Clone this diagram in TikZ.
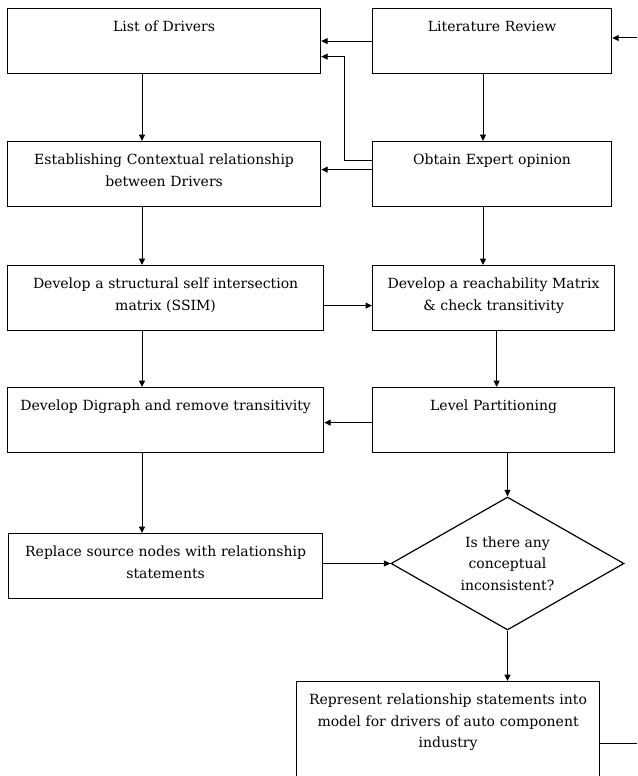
\documentclass[tikz,border=0pt]{standalone}
\usepackage{fontspec}
\setmainfont{DejaVu Serif}
\usetikzlibrary{arrows.meta,shapes.geometric}
\newcommand{\flowfont}{\fontsize{14}{21.5}\selectfont}
\tikzset{
  ar/.style={-{Triangle[length=6.5pt,width=6pt]},line width=1pt},
  stepbox/.style={draw,line width=1.2pt,anchor=north west,inner xsep=0pt,inner ysep=8pt,
    text width=#1,align=center,text height=15pt,text depth=34pt,font=\flowfont},
  decide/.style={draw,line width=1.2pt,diamond,aspect=1.75,minimum width=233pt,
    minimum height=133pt,inner sep=0pt,align=center,font=\flowfont}
}

\begin{document}
\begin{tikzpicture}[x=1pt,y=-1pt]
\useasboundingbox (0,0) rectangle (637,776);
\clip (0,0) rectangle (637,776);
\fill[white] (0,0) rectangle (637,776);
% columns for the vertical connectors, and the loose ends at the right edge
\coordinate (colL) at (142,0);
\coordinate (colR) at (483,0);
\coordinate (in) at (650,38);
\coordinate (out) at (650,743);
% left column
\node[stepbox=313pt] (drivers) at (7,8) {List of Drivers};
\node[stepbox=313pt] (est) at (7,141) {Establishing Contextual relationship\\between Drivers};
\node[stepbox=316pt] (ssim) at (7,265) {Develop a structural self intersection\\matrix (SSIM)};
\node[stepbox=316pt] (digraph) at (7,387) {Develop Digraph and remove transitivity};
\node[stepbox=314pt] (replace) at (8,533) {Replace source nodes with relationship\\statements};
% right column
\node[stepbox=239pt] (lit) at (372,8) {Literature Review};
\node[stepbox=239pt] (expert) at (372,141) {Obtain Expert opinion};
\node[stepbox=242pt] (reach) at (372,265) {Develop a reachability Matrix\\\& check transitivity};
\node[stepbox=242pt] (level) at (372,387) {Level Partitioning};
\node[decide] (dia) at (507.5,563.5) {Is there any\\conceptual\\inconsistent?};
\node[stepbox=303pt,text depth=89pt] (final) at (296,681) {Represent relationship statements into\\model for drivers of auto component\\industry};
% connectors
\draw[ar] (in) -- (in -| lit.east);
\draw[ar] (lit.west) -- (drivers.east);
\draw[ar] ([yshift=13.5pt]expert.west) -- ++(-28,0) |- ([yshift=-15.5pt]drivers.east);
\draw[ar] ([yshift=4.5pt]expert.west) -- ([yshift=4.5pt]est.east);
\draw[ar] (drivers.south -| colL) -- (est.north -| colL);
\draw[ar] (est.south -| colL) -- (ssim.north -| colL);
\draw[ar] (ssim.south -| colL) -- (digraph.north -| colL);
\draw[ar] (digraph.south -| colL) -- (replace.north -| colL);
\draw[ar] (lit.south -| colR) -- (expert.north -| colR);
\draw[ar] (expert.south -| colR) -- (reach.north -| colR);
\draw[ar] ([xshift=3pt]reach.south) -- ([xshift=3pt]level.north);
\draw[ar] (level.south -| dia.north) -- (dia.north);
\draw[ar] ([yshift=-7.5pt]ssim.east) -- ([yshift=-7.5pt]reach.west);
\draw[ar] ([yshift=-2.5pt]level.west) -- ([yshift=-2.5pt]digraph.east);
\draw[ar] (replace.east |- dia.west) -- (dia.west);
\draw[ar] (dia.south) -- (dia.south |- final.north);
\draw (out -| final.east) -- (out);
\end{tikzpicture}
\end{document}
